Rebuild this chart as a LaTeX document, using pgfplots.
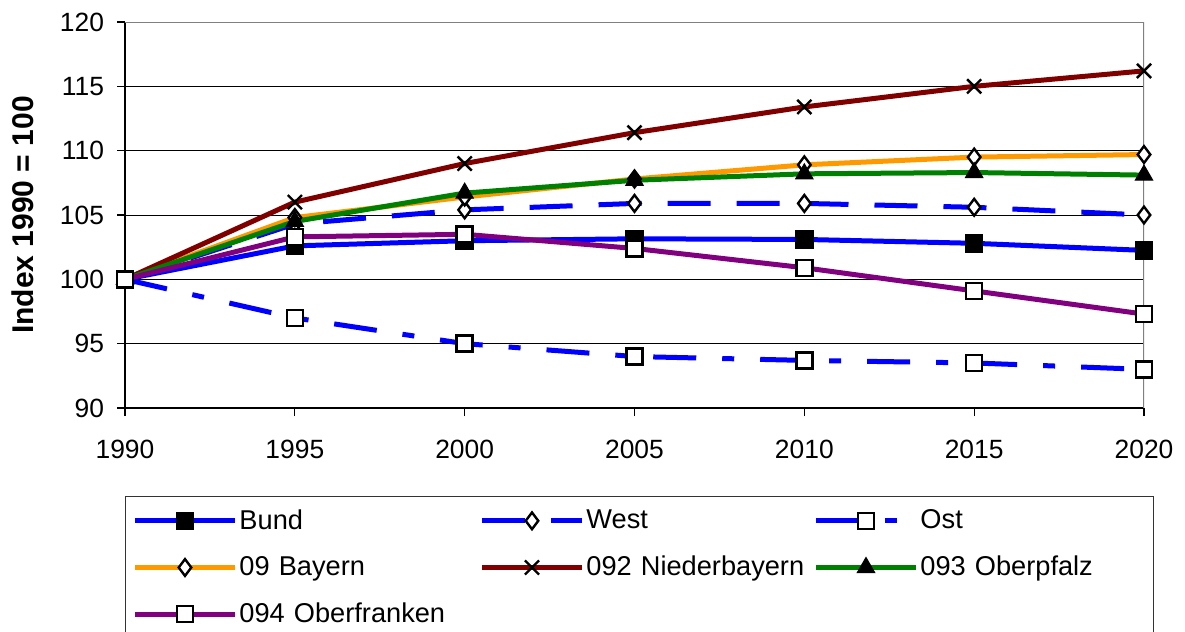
\documentclass[border=0pt]{standalone}
\usepackage{pgfplots}
\pgfplotsset{compat=1.18}
\usepackage{fontspec}
\setmainfont{Liberation Sans}

\definecolor{bayern}{RGB}{255,153,0}
\definecolor{nieder}{RGB}{128,0,0}
\definecolor{opf}{RGB}{0,128,0}
\definecolor{ofr}{RGB}{128,0,128}

\pgfplotsset{
  mylegend/.style={
    legend image code/.code={
      \draw[mark repeat=2,mark phase=2,##1] plot coordinates {(0bp,0bp) (25bp,0bp) (50bp,0bp)};
    }
  }
}

\begin{document}
\begin{tikzpicture}
\begin{axis}[
  name=ax,
  scale only axis,
  width=509.5bp, height=193bp,
  xmin=1990, xmax=2020,
  ymin=90, ymax=120,
  xtick={1990,1995,...,2020},
  ytick={90,95,...,120},
  axis lines*=left,
  axis line style={black, line width=0.9bp},
  tick align=outside,
  major tick length=4bp,
  tick style={black, line width=0.6bp},
  ymajorgrids,
  grid style={black, line width=0.5bp},
  /pgf/number format/1000 sep={},
  /pgf/number format/assume math mode=true,
  tick label style={font=\fontsize{13.2bp}{15bp}\selectfont},
  xticklabel style={yshift=-8.5bp},
  yticklabel style={xshift=-3bp},
  ylabel={Index 1990 = 100},
  ylabel style={at={(axis description cs:-0.1,0.5)}, anchor=center,
    font=\bfseries\fontsize{15bp}{17bp}\selectfont},
  mylegend,
  legend columns=3,
  legend style={at={(axis description cs:0,-0.228)}, anchor=north west,
    draw=black!80, line width=0.5bp,
    font=\fontsize{13.6bp}{15bp}\selectfont,
    inner xsep=3.5bp, inner ysep=4.5bp,
    row sep=8bp,
    nodes={text width=112bp, align=left, inner xsep=1bp, xshift=-2.5bp},
    /tikz/column 2/.style={column sep=7bp},
    /tikz/column 4/.style={column sep=0.5bp}},
  every axis plot/.append style={line width=2.5bp},
]
\addplot[blue, mark=square*, mark size=4.2bp, mark options={solid, fill=black, draw=black, line width=0.8bp}]
  coordinates {(1990,100) (1995,102.6) (2000,103.0) (2005,103.15) (2010,103.1) (2015,102.8) (2020,102.25)};
\addlegendentry{Bund}
\addplot[blue, dash pattern=on 21.5bp off 13bp, mark=diamond*, mark size=4.2bp, mark options={solid, fill=white, draw=black, line width=1.2bp}]
  coordinates {(1990,100) (1995,104.3) (2000,105.4) (2005,105.9) (2010,105.9) (2015,105.6) (2020,105.0)};
\addlegendentry{West}
\addplot[blue, dash pattern=on 21.5bp off 13bp on 6bp off 13bp, mark=square*, mark size=4bp, mark options={solid, fill=white, draw=black, line width=1.2bp}]
  coordinates {(1990,100) (1995,97.0) (2000,95.0) (2005,94.0) (2010,93.7) (2015,93.5) (2020,93.0)};
\addlegendentry{Ost}
\addplot[bayern, mark=diamond*, mark size=4.2bp, mark options={solid, fill=white, draw=black, line width=1.2bp}]
  coordinates {(1990,100) (1995,104.8) (2000,106.4) (2005,107.8) (2010,108.9) (2015,109.5) (2020,109.7)};
\addlegendentry{09 Bayern}
\addplot[nieder, mark=x, mark size=5bp, mark options={solid, draw=black, line width=1.2bp}]
  coordinates {(1990,100) (1995,106.0) (2000,109.0) (2005,111.4) (2010,113.4) (2015,115.0) (2020,116.2)};
\addlegendentry{092 Niederbayern}
\addplot[opf, mark=triangle*, mark size=5bp, mark options={solid, fill=black, draw=black, line width=0.5bp}]
  coordinates {(1990,100) (1995,104.5) (2000,106.7) (2005,107.7) (2010,108.2) (2015,108.3) (2020,108.1)};
\addlegendentry{093 Oberpfalz}
\addplot[ofr, mark=square*, mark size=4bp, mark options={solid, fill=white, draw=black, line width=1.2bp}]
  coordinates {(1990,100) (1995,103.3) (2000,103.5) (2005,102.4) (2010,100.9) (2015,99.1) (2020,97.3)};
\addlegendentry{094 Oberfranken}
\draw[gray, line width=1bp] (rel axis cs:0,1) -- (rel axis cs:1,1) -- (rel axis cs:1,0);
\end{axis}
\pgfresetboundingbox
\path[use as bounding box] ([xshift=-62.5bp,yshift=11bp]ax.north west) rectangle ([xshift=20.5bp,yshift=-112bp]ax.south east);
\end{tikzpicture}
\end{document}
